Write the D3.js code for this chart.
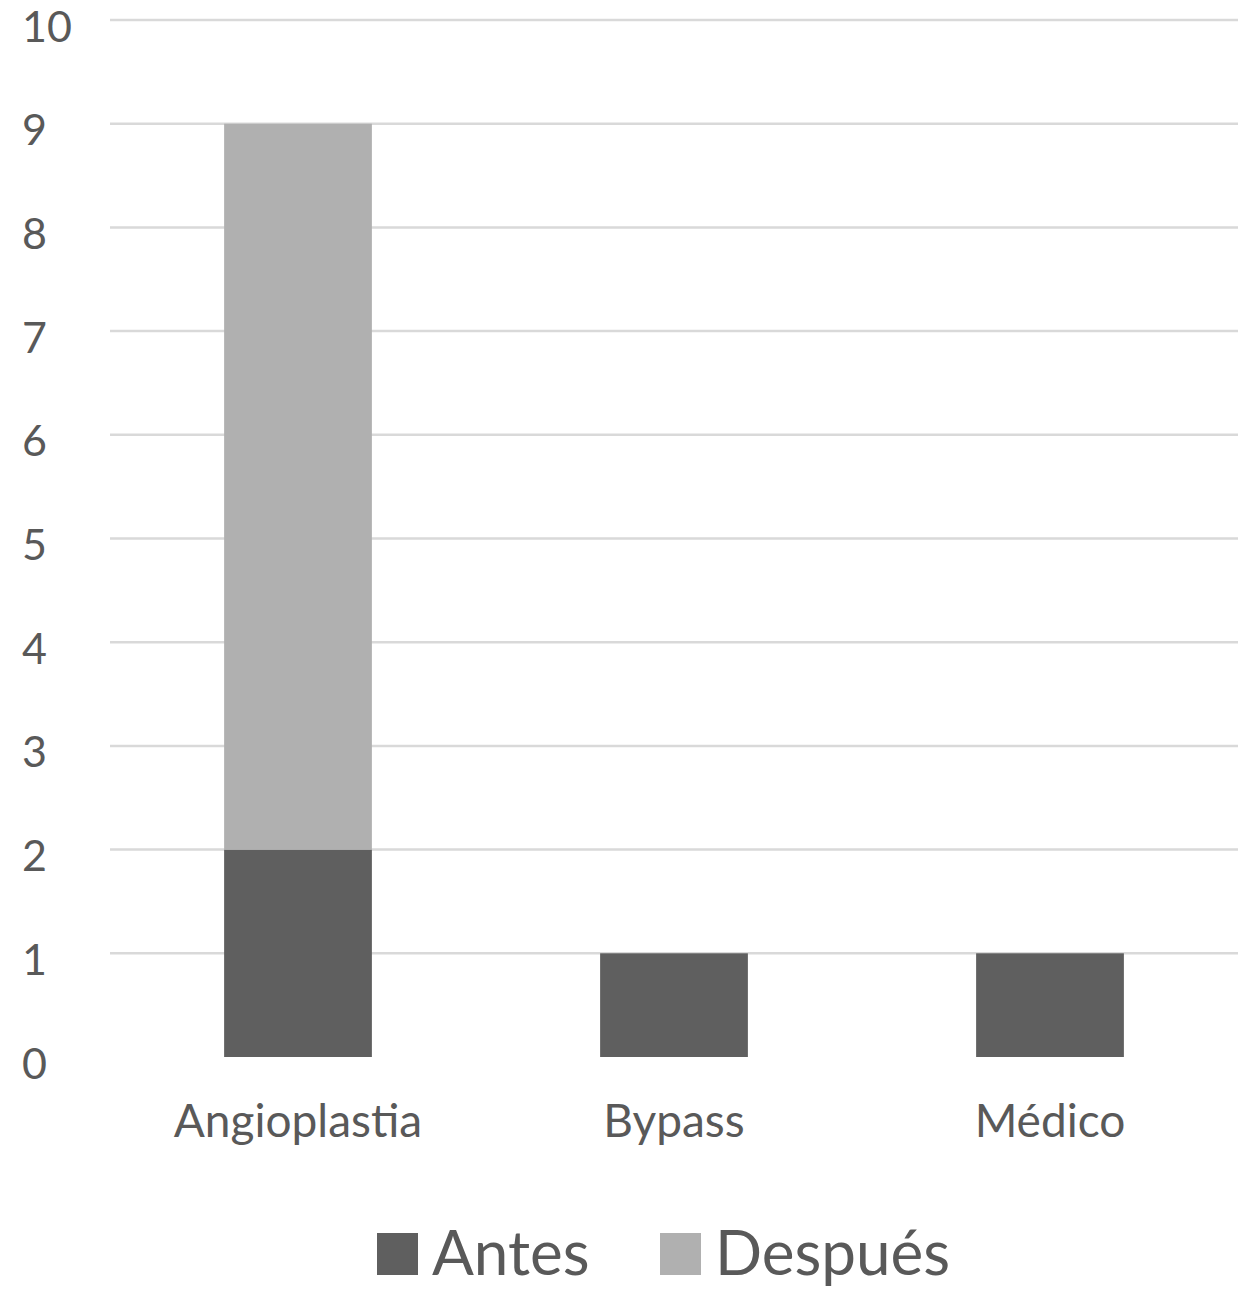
<!DOCTYPE html>
<html><head><meta charset="utf-8">
<script src="https://cdn.jsdelivr.net/npm/d3@7"></script>
<style>body{margin:0;background:#fff}</style>
</head><body><svg id="c" width="1258" height="1305"></svg>
<script>
const categories = ["Angioplastia", "Bypass", "Médico"];
const antes = [2, 1, 1];
const despues = [7, 0, 0];
const seriesNames = ["Antes", "Después"];
const seriesColors = ["#5f5f5f", "#b0b0b0"];
const yTicks = [0,1,2,3,4,5,6,7,8,9,10];

const svg = d3.select("#c");
const font = "Lato, 'Open Sans', sans-serif";
const x = d3.scaleBand().domain(categories).range([110, 1238]).paddingInner(0.607).paddingOuter(0.3035);
const y = d3.scaleLinear().domain([0, 10]).range([1057, 20]);

svg.append("g").selectAll("line").data(yTicks.filter(d=>d>0)).join("line")
  .attr("x1", 110).attr("x2", 1238).attr("y1", d=>y(d)).attr("y2", d=>y(d))
  .attr("stroke", "#d9d9d9").attr("stroke-width", 2.5);

svg.append("g").selectAll("text").data(yTicks).join("text")
  .attr("x", 22).attr("y", d=>y(d)).attr("dy", "0.5em")
  .attr("font-family", font).attr("font-size", 43).attr("fill", "#595959")
  .text(d=>d);

const data = categories.map((c,i)=>({cat:c, Antes:antes[i], "Después":despues[i]}));
const stack = d3.stack().keys(seriesNames)(data);
svg.append("g").selectAll("g").data(stack).join("g")
  .attr("fill", (d,i)=>seriesColors[i])
  .selectAll("rect").data(d=>d.filter(p=>p[1]>p[0])).join("rect")
  .attr("x", d=>x(d.data.cat)).attr("width", x.bandwidth())
  .attr("y", d=>y(d[1])).attr("height", d=>y(d[0])-y(d[1]));

svg.append("g").selectAll("text").data(categories).join("text")
  .attr("x", d=>x(d)+x.bandwidth()/2).attr("y", 1137)
  .attr("text-anchor", "middle")
  .attr("font-family", font).attr("font-size", 46).attr("fill", "#595959")
  .text(d=>d);

const legendX = [377, 660];
const lg = svg.append("g").selectAll("g").data(seriesNames).join("g")
  .attr("transform", (d,i)=>`translate(${legendX[i]},1233)`);
lg.append("rect").attr("width", 41).attr("height", 42).attr("fill", (d,i)=>seriesColors[i]);
lg.append("text").attr("x", 55).attr("y", 42)
  .attr("font-family", font).attr("font-size", 62).attr("fill", "#595959")
  .text(d=>d);
</script></body></html>
